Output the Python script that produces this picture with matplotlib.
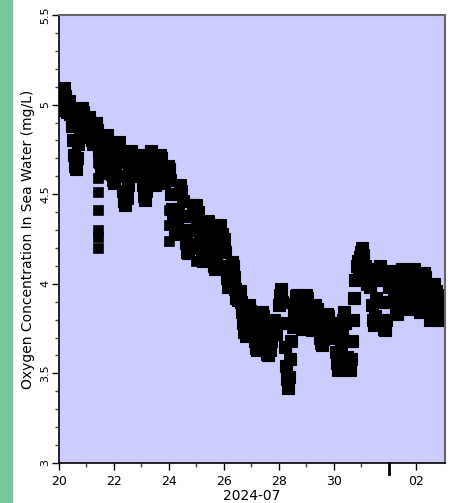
import matplotlib
matplotlib.use("Agg")
import matplotlib.pyplot as plt
import numpy as np
from matplotlib.patches import Rectangle

# hourly oxygen readings starting 2024-07-20 00:00, one row per day
oxygen = [
    5.00, 4.97, 5.03, 5.07, 5.09, 5.05, 5.00, 4.96, 4.98, 5.02, 4.95, 4.88,
    4.80, 4.72, 4.66, 4.64, 4.70, 4.78, 4.86, 4.93, 4.98, 4.96, 4.90, 4.84,
    4.82, 4.88, 4.93, 4.90, 4.86, 4.80, 4.78, 4.84, 4.90, 4.86, 4.80, 4.74,
    4.68, 4.63, 4.62, 4.68, 4.75, 4.81, 4.83, 4.78, 4.72, 4.66, 4.61, 4.58,
    4.56, 4.62, 4.70, 4.77, 4.79, 4.74, 4.68, 4.60, 4.52, 4.46, 4.44, 4.48,
    4.55, 4.63, 4.70, 4.74, 4.71, 4.66, 4.62, 4.60, 4.64, 4.70, 4.72, 4.68,
    4.62, 4.55, 4.49, 4.47, 4.52, 4.60, 4.67, 4.72, 4.74, 4.70, 4.64, 4.58,
    4.55, 4.57, 4.63, 4.69, 4.72, 4.70, 4.65, 4.60, 4.56, 4.58, 4.63, 4.66,
    4.64, 4.58, 4.50, 4.42, 4.35, 4.29, 4.28, 4.34, 4.42, 4.50, 4.55, 4.52,
    4.46, 4.38, 4.30, 4.23, 4.18, 4.17, 4.22, 4.30, 4.38, 4.44, 4.42, 4.38,
    4.44, 4.40, 4.34, 4.27, 4.20, 4.15, 4.13, 4.18, 4.25, 4.32, 4.35, 4.31,
    4.26, 4.20, 4.14, 4.10, 4.08, 4.12, 4.18, 4.25, 4.31, 4.33, 4.28, 4.24,
    4.25, 4.18, 4.10, 4.03, 3.98, 4.00, 4.06, 4.12, 4.10, 4.04, 3.97, 3.92,
    3.91, 3.95, 3.96, 3.90, 3.84, 3.78, 3.73, 3.71, 3.76, 3.83, 3.88, 3.85,
    3.84, 3.80, 3.74, 3.68, 3.64, 3.63, 3.67, 3.73, 3.80, 3.84, 3.82, 3.76,
    3.70, 3.65, 3.61, 3.60, 3.63, 3.68, 3.74, 3.79, 3.80, 3.76, 3.72, 3.78,
    3.88, 3.94, 3.97, 3.90, 3.78, 3.65, 3.54, 3.47, 3.42, 3.48, 3.58, 3.68,
    3.76, 3.83, 3.89, 3.93, 3.94, 3.90, 3.84, 3.78, 3.75, 3.78, 3.85, 3.91,
    3.94, 3.92, 3.87, 3.81, 3.76, 3.74, 3.77, 3.83, 3.88, 3.86, 3.80, 3.74,
    3.70, 3.67, 3.66, 3.69, 3.74, 3.79, 3.83, 3.82, 3.78, 3.74, 3.72, 3.75,
    3.78, 3.70, 3.62, 3.56, 3.52, 3.55, 3.63, 3.72, 3.80, 3.84, 3.78, 3.68,
    3.59, 3.53, 3.52, 3.58, 3.68, 3.80, 3.92, 4.02, 4.10, 4.13, 4.08, 4.15,
    4.18, 4.20, 4.16, 4.10, 4.04, 4.00, 4.02, 4.06, 3.98, 3.88, 3.80, 3.77,
    3.82, 3.92, 4.02, 4.08, 4.10, 4.02, 3.90, 3.80, 3.75, 3.74, 3.80, 3.90,
    3.98, 4.04, 4.07, 4.04, 3.98, 3.91, 3.86, 3.83, 3.86, 3.92, 3.99, 4.05,
    4.08, 4.05, 4.00, 3.94, 3.89, 3.86, 3.88, 3.94, 4.00, 4.06, 4.08, 4.04,
    3.98, 3.92, 3.87, 3.84, 3.88, 3.95, 4.02, 4.06, 4.04, 3.98, 3.90, 3.84,
    3.80, 3.82, 3.88, 3.95, 4.00, 3.96, 3.90, 3.84, 3.81, 3.80, 3.84, 3.90,
    3.94, 3.90,
]

# isolated outlier readings (days since Jul 20, value)
spike_days = [1.42, 1.42, 1.42, 1.42, 1.42, 1.42, 1.42, 1.42, 4.0, 4.0, 4.0, 5.0, 5.0]
spike_vals = [4.74, 4.68, 4.59, 4.51, 4.41, 4.30, 4.26, 4.20, 4.41, 4.33, 4.24, 4.33, 4.13]

tick_days = [0, 2, 4, 6, 8, 10, 13]
tick_labels = ["20", "22", "24", "26", "28", "30", "02"]
minor_days = [1, 3, 5, 7, 9, 11]
month_day = 12  # Aug 01

days = np.arange(len(oxygen)) / 24.0

fig = plt.figure(figsize=(4.58, 5.03), dpi=100)
fig.patches.append(Rectangle((0, 0), 12 / 458, 1, transform=fig.transFigure,
                             color="#7cc49e", zorder=0))
ax = fig.add_axes([59 / 458, 40 / 503, 386 / 458, 448 / 503])
ax.set_facecolor("#ccccff")

ax.plot(days, oxygen, ls="none", marker="s", ms=8, mfc="black", mec="black", mew=0.8)
ax.plot(spike_days, spike_vals, ls="none", marker="s", ms=6.5, mfc="black", mec="black", mew=0.5)

ax.set_xlim(0, 14.05)
ax.set_ylim(3, 5.5)

ax.set_xticks(tick_days)
ax.set_xticklabels(tick_labels, fontsize=9)
ax.set_xticks(minor_days, minor=True)
ax.set_yticks([3, 3.5, 4, 4.5, 5, 5.5])
ax.set_yticklabels(["3", "3.5", "4", "4.5", "5", "5.5"], fontsize=8, rotation=90, va="center")
ax.set_yticks(np.arange(30, 56) / 10, minor=True)
ax.tick_params(axis="both", which="major", length=5, width=1, direction="out", color="black")
ax.tick_params(axis="both", which="minor", length=3, width=1, direction="out", color="#444444")
ax.tick_params(axis="y", pad=1)

# heavier tick marking the start of the month
ax.plot([month_day, month_day], [0, -0.025], transform=ax.get_xaxis_transform(),
        color="black", lw=2, clip_on=False)

for side in ["top", "right"]:
    ax.spines[side].set_color("#666666")
    ax.spines[side].set_linewidth(1.5)
for side in ["left", "bottom"]:
    ax.spines[side].set_color("black")
    ax.spines[side].set_linewidth(1.2)

ax.set_xlabel("2024-07", fontsize=10, labelpad=1)
ax.set_ylabel("Oxygen Concentration In Sea Water (mg/L)", fontsize=10, labelpad=4)

fig.savefig("out.png", dpi=100)
